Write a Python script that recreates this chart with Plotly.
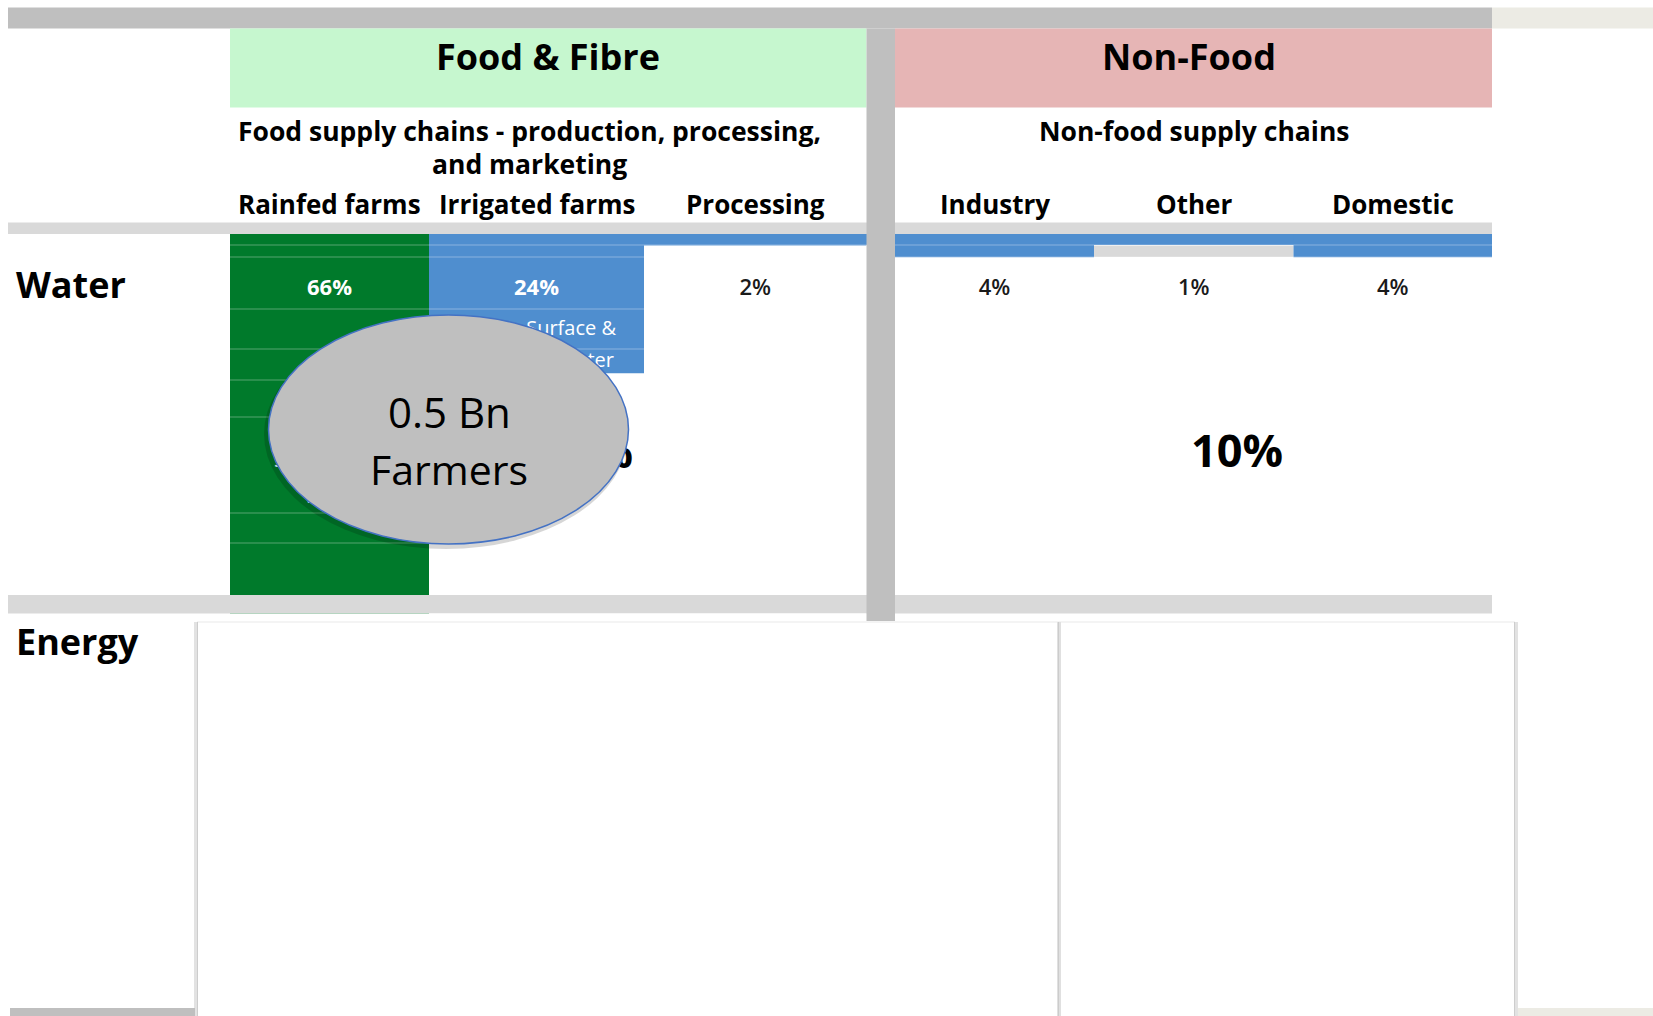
import plotly.graph_objects as go

# ---------------- data ----------------
groups = ["Food & Fibre", "Non-Food"]
food_subtitle = ["Food supply chains - production, processing,", "and marketing"]
nonfood_subtitle = ["Non-food supply chains"]
columns = ["Rainfed farms", "Irrigated farms", "Processing", "Industry", "Other", "Domestic"]
water_share = [66, 24, 2, 4, 1, 4]
group_totals = ["92%", "10%"]
row_labels = ["Water", "Energy"]
callout_lines = ["0.5 Bn", "Farmers"]
irrigated_note = ["Surface &", "groundwater"]
rainfed_note = ["Soil moisture", "Water"]

# ---------------- layout constants ----------------
W, H = 1653, 1016
FONT = "Open Sans"
col_left = [230, 429, 644, 895, 1094, 1293.5]
col_right = [429, 644, 866.5, 1094, 1293.5, 1492]
col_center = [(a + b) / 2 for a, b in zip(col_left, col_right)]
col_width = [b - a for a, b in zip(col_left, col_right)]
BAR_TOP = 234
PX_PER_PCT = 5.8
GREEN = "#007a2b"
BLUE = "#4f8ecf"
GREY = "#bfbfbf"
LIGHT = "#d9d9d9"
BEIGE = "#ecebe4"
bar_colors = [GREEN] + [BLUE] * 5


def py(p):
    """page-pixel row -> value on the share axis (y2)"""
    return (p - BAR_TOP) / PX_PER_PCT


fig = go.Figure()

# water-share columns
fig.add_trace(go.Bar(
    x=col_center, y=water_share, width=col_width, base=0,
    marker=dict(color=bar_colors, line=dict(width=0)),
    yaxis="y2", showlegend=False, hoverinfo="skip"))

# percentage labels
pct_text = [f"{v}%" for v in water_share]
fig.add_trace(go.Scatter(
    x=col_center[:2], y=[py(289)] * 2, mode="text", text=pct_text[:2], yaxis="y2",
    textfont=dict(family=FONT, size=22, color="white", weight="bold"),
    showlegend=False, hoverinfo="skip"))
fig.add_trace(go.Scatter(
    x=col_center[2:], y=[py(289)] * 4, mode="text", text=pct_text[2:], yaxis="y2",
    textfont=dict(family=FONT, size=22, color="#1a1a1a", weight=600),
    showlegend=False, hoverinfo="skip"))

# notes partly hidden behind the callout
fig.add_trace(go.Scatter(
    x=[616, 614], y=[py(330), py(362)], mode="text", text=irrigated_note, yaxis="y2",
    textposition="middle left",
    textfont=dict(family=FONT, size=20, color="white"),
    showlegend=False, hoverinfo="skip"))
fig.add_trace(go.Scatter(
    x=[335, 332], y=[py(462), py(498)], mode="text", text=rainfed_note, yaxis="y2",
    textfont=dict(family=FONT, size=20, color="white"),
    showlegend=False, hoverinfo="skip"))

# group totals
fig.add_trace(go.Scatter(
    x=[587, 1237], y=[py(457), py(456)], mode="text", text=group_totals, yaxis="y2",
    textfont=dict(family=FONT, size=45, color="black", weight="bold"),
    showlegend=False, hoverinfo="skip"))

shapes = []


def rect(x0, y0, x1, y1, color, layer="below", line=None):
    shapes.append(dict(type="rect", xref="x", yref="y", x0=x0, y0=y0, x1=x1, y1=y1,
                       fillcolor=color, layer=layer, line=line or dict(width=0)))


def vline(x, y0, y1, color, width, layer="above"):
    shapes.append(dict(type="line", xref="x", yref="y", x0=x, x1=x, y0=y0, y1=y1,
                       layer=layer, line=dict(color=color, width=width)))


rect(8, 7.5, 1492, 28.5, GREY)
rect(1492, 7.5, W, 28.5, BEIGE)
rect(230, 28.5, 866.5, 107.5, "#c6f7cf")
rect(895, 28.5, 1492, 107.5, "#e6b5b5")
rect(8, 222.5, 1492, 234, LIGHT)
rect(230, 234, 1492, 245, BLUE)
rect(1094, 245.5, 1293.5, 257, LIGHT)

# faint cell grid lines
for gy in [245, 257, 309, 349, 380, 417, 513, 543]:
    shapes.append(dict(type="line", xref="x", yref="y", x0=230, x1=1492, y0=gy, y1=gy,
                       layer="above", line=dict(color="rgba(255,255,255,0.22)", width=1.5)))

rect(8, 595, 1492, 613.5, LIGHT, layer="above")
rect(230, 613.5, 866.5, 621, "white", layer="above")
rect(866.5, 28.5, 895, 621, GREY, layer="above")

# energy panel (white sheet with soft edges)
rect(197, 622, 1515, 1030, "white", layer="above")
shapes.append(dict(type="line", xref="x", yref="y", x0=197, x1=1515, y0=622, y1=622,
                   layer="above", line=dict(color="#f1f1f1", width=1.5)))
vline(196, 622, 1016, "#e2e2e2", 4)
vline(197.5, 622, 1016, "#cdcdcd", 1)
vline(1516, 622, 1016, "#e2e2e2", 4)
vline(1514.5, 622, 1016, "#cdcdcd", 1)
vline(1059, 622, 1016, "#e0e0e0", 4)
vline(1058.5, 622, 1016, "#cccccc", 1)
rect(10, 1008, 195, 1016, GREY, layer="above")
rect(1518, 1008, W, 1016, BEIGE, layer="above")

# callout ellipse with soft shadow
shapes.append(dict(type="circle", xref="x", yref="y", x0=264, y0=319, x1=628, y1=549,
                   fillcolor="rgba(0,0,0,0.16)", layer="above", line=dict(width=0)))
shapes.append(dict(type="circle", xref="x", yref="y", x0=268.5, y0=315, x1=628.5, y1=544,
                   fillcolor="#bfbfbf", layer="above", line=dict(color="#4472c4", width=1.5)))

annotations = []


def ann(text, x, y, size, bold=True, xanchor="center", color="black"):
    annotations.append(dict(text=text, x=x, y=y, xref="x", yref="y", showarrow=False,
                            xanchor=xanchor, yanchor="middle",
                            font=dict(family=FONT, size=size, color=color,
                                      weight="bold" if bold else "normal")))


ann(groups[0], 548, 56, 36)
ann(groups[1], 1189, 56, 36)
ann(food_subtitle[0], 529, 131, 26.5)
ann(food_subtitle[1], 529, 164, 26.5)
ann(nonfood_subtitle[0], 1194, 131, 26.5)
for c, lbl in zip(col_center, columns):
    ann(lbl, c, 204, 26)
ann(row_labels[0], 14, 284, 36, xanchor="left")
ann(row_labels[1], 14, 641, 36, xanchor="left")
ann(callout_lines[0], 449, 411, 42, bold=False)
ann(callout_lines[1], 449, 469, 41, bold=False)

fig.update_layout(
    width=W, height=H, margin=dict(l=0, r=0, t=0, b=0),
    paper_bgcolor="white", plot_bgcolor="white",
    xaxis=dict(range=[0, W], visible=False, fixedrange=True),
    yaxis=dict(range=[H, 0], visible=False, fixedrange=True),
    yaxis2=dict(range=[py(H), py(0)], overlaying="y", visible=False, fixedrange=True),
    shapes=shapes, annotations=annotations, showlegend=False,
    font=dict(family=FONT),
)

fig.write_html("out.html")
